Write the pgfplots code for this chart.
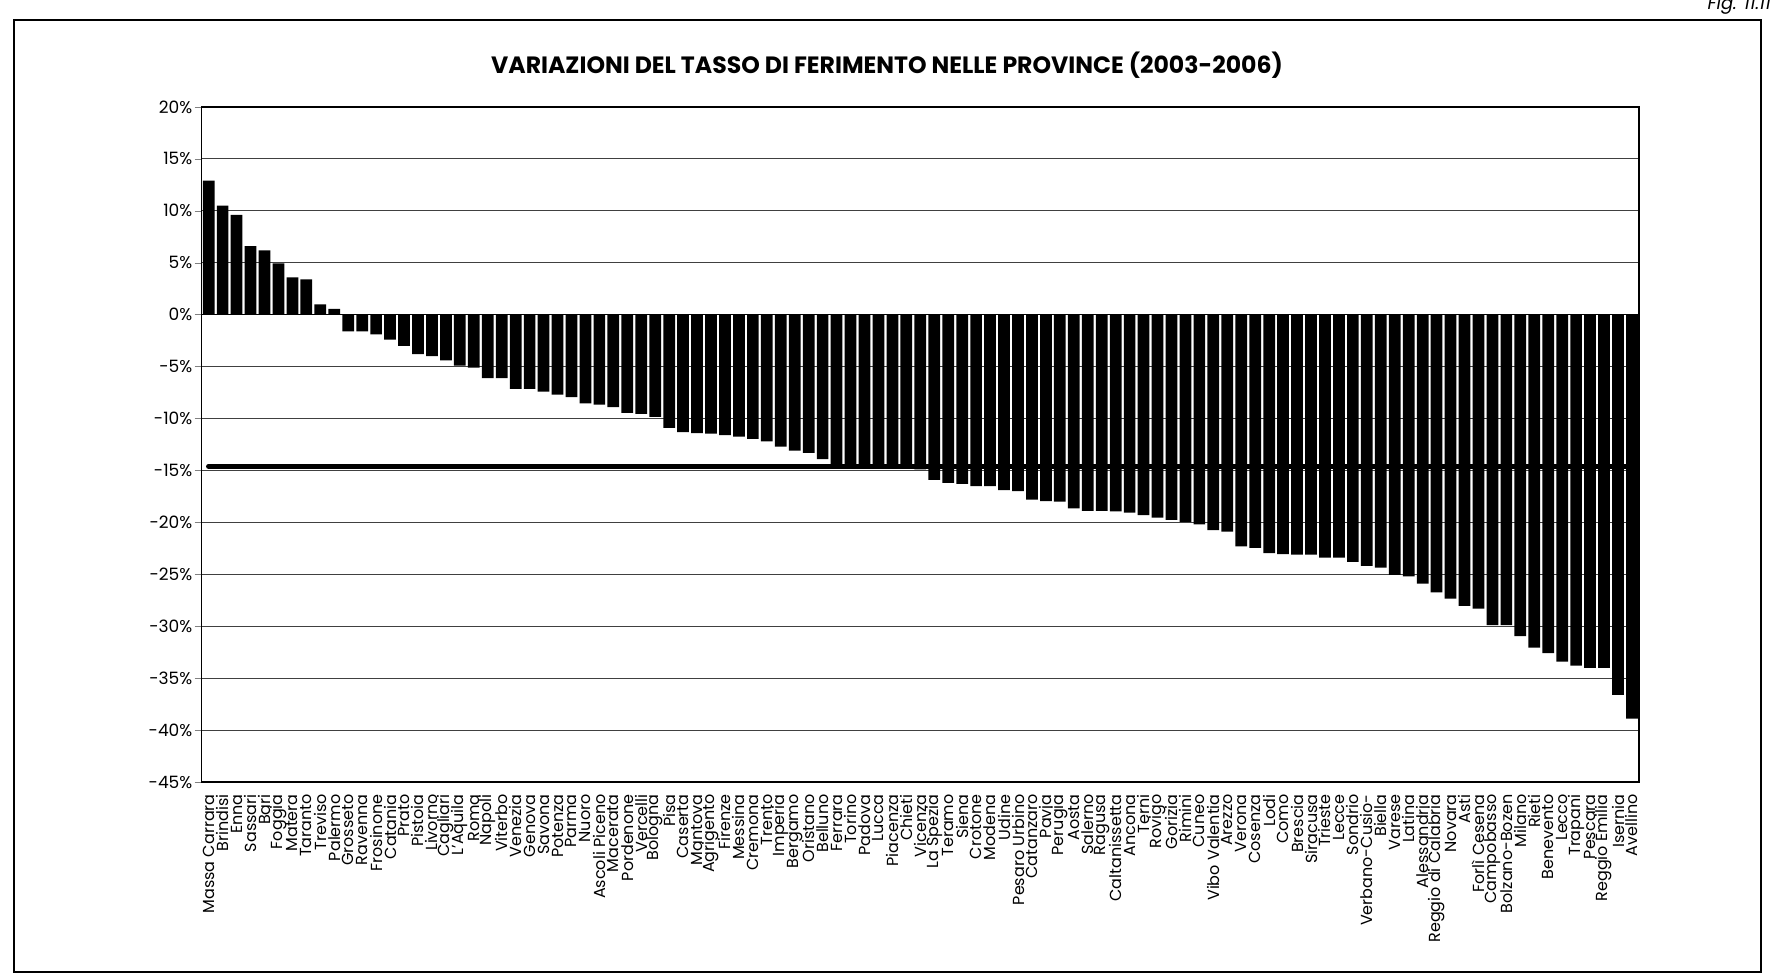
\documentclass[border=0pt]{standalone}
\usepackage{pgfplots}
\usepackage{pgfplotstable}
\pgfplotsset{compat=1.18}
\usepackage{fontspec}
\setmainfont{Poppins}

\pgfplotstableread{
x y
1 12.9
2 10.5
3 9.6
4 6.6
5 6.2
6 4.95
7 3.6
8 3.4
9 1.0
10 0.55
11 -1.6
12 -1.6
13 -1.9
14 -2.4
15 -3.0
16 -3.8
17 -4.0
18 -4.4
19 -4.9
20 -5.1
21 -6.1
22 -6.1
23 -7.15
24 -7.15
25 -7.4
26 -7.7
27 -7.95
28 -8.55
29 -8.65
30 -8.9
31 -9.45
32 -9.55
33 -9.85
34 -10.9
35 -11.3
36 -11.4
37 -11.45
38 -11.6
39 -11.75
40 -11.95
41 -12.2
42 -12.7
43 -13.1
44 -13.3
45 -13.9
46 -14.4
47 -14.5
48 -14.6
49 -14.6
50 -14.7
51 -14.8
52 -14.9
53 -15.9
54 -16.2
55 -16.3
56 -16.5
57 -16.5
58 -16.9
59 -17.0
60 -17.8
61 -17.95
62 -18.0
63 -18.65
64 -18.9
65 -18.9
66 -18.95
67 -19.05
68 -19.3
69 -19.55
70 -19.75
71 -19.95
72 -20.2
73 -20.75
74 -20.9
75 -22.3
76 -22.45
77 -22.95
78 -23.05
79 -23.1
80 -23.1
81 -23.4
82 -23.4
83 -23.8
84 -24.2
85 -24.35
86 -25.05
87 -25.2
88 -25.9
89 -26.75
90 -27.35
91 -28.05
92 -28.3
93 -29.9
94 -29.9
95 -30.95
96 -32.05
97 -32.6
98 -33.4
99 -33.8
100 -34.0
101 -34.0
102 -36.6
103 -38.9
}\datatable

\begin{document}
\begin{tikzpicture}
\useasboundingbox (0pt,0pt) rectangle (888pt,489pt);
\draw[black, line width=0.7pt] (7pt,3pt) rectangle (880.5pt,479pt);
\node[font=\bfseries\fontsize{11.8}{14}\selectfont] at (443.5pt,456.5pt)
  {VARIAZIONI DEL TASSO DI FERIMENTO NELLE PROVINCE (2003-2006)};
\node[anchor=base east, font=\itshape\fontsize{9}{10}\selectfont] at (889pt,484pt) {Fig. 11.11};
\begin{axis}[
  at={(100.85pt,98pt)}, anchor=south west,
  scale only axis,
  width=718.6pt, height=337.5pt,
  xmin=0.5, xmax=103.5, ymin=-45, ymax=20,
  axis line style={black, line width=0.6pt},
  ytick={-45,-40,-35,-30,-25,-20,-15,-10,-5,0,5,10,15,20},
  yticklabels={-45\%,-40\%,-35\%,-30\%,-25\%,-20\%,-15\%,-10\%,-5\%,0\%,5\%,10\%,15\%,20\%},
  ytick pos=left,
  ytick align=outside,
  major tick length=3.5pt,
  ymajorgrids,
  grid style={black!75, line width=0.45pt},
  y tick label style={font=\fontsize{8.5}{9}\selectfont, inner sep=1pt},
  xtick={1,...,103},
  xticklabels={Massa Carrara,Brindisi,Enna,Sassari,Bari,Foggia,Matera,Taranto,Treviso,Palermo,Grosseto,Ravenna,Frosinone,Catania,Prato,Pistoia,Livorno,Cagliari,L'Aquila,Roma,Napoli,Viterbo,Venezia,Genova,Savona,Potenza,Parma,Nuoro,Ascoli Piceno,Macerata,Pordenone,Vercelli,Bologna,Pisa,Caserta,Mantova,Agrigento,Firenze,Messina,Cremona,Trento,Imperia,Bergamo,Oristano,Belluno,Ferrara,Torino,Padova,Lucca,Piacenza,Chieti,Vicenza,La Spezia,Teramo,Siena,Crotone,Modena,Udine,Pesaro Urbino,Catanzaro,Pavia,Perugia,Aosta,Salerno,Ragusa,Caltanissetta,Ancona,Terni,Rovigo,Gorizia,Rimini,Cuneo,Vibo Valentia,Arezzo,Verona,Cosenza,Lodi,Como,Brescia,Siracusa,Trieste,Lecce,Sondrio,Verbano-Cusio-,Biella,Varese,Latina,Alessandria,Reggio di Calabria,Novara,Asti,Forlì Cesena,Campobasso,Bolzano-Bozen,Milano,Rieti,Benevento,Lecco,Trapani,Pescara,Reggio Emilia,Isernia,Avellino},
  xtick pos=bottom,
  major x tick style={draw=none},
  x tick label style={rotate=90, anchor=east, font=\fontsize{8}{8}\selectfont, inner sep=0pt},
  xticklabel shift=6pt,
]
\addplot[ybar, bar width=0.84, fill=black, draw=none] table[x=x,y=y] {\datatable};
\addplot[black, line width=0.6pt] coordinates {(0.5,0) (103.5,0)};
\pgfplotsinvokeforeach{1,...,102}{
  \draw[black, line width=0.5pt] (axis cs:#1.5,0) ++(0,2.5pt) -- ++(0,-5pt);
}
\addplot[black, line width=2.65pt, line cap=round] coordinates {(1,-14.6) (103,-14.6)};
\end{axis}
\end{tikzpicture}
\end{document}
